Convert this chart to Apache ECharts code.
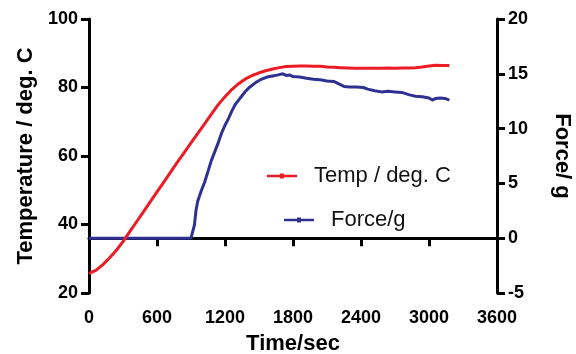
<!DOCTYPE html>
<html>
<head>
<meta charset="utf-8">
<script src="https://cdn.jsdelivr.net/npm/echarts@6/dist/echarts.min.js"></script>
<style>html,body{margin:0;padding:0;background:#fff}#c{width:576px;height:354px}</style>
</head>
<body>
<div id="c"></div>
<script>
// ---- data ----
var tempTime = [0,60,120,180,240,300,360,420,480,540,600,660,720,780,840,900,960,1020,1080,1140,1200,1260,1320,1380,1440,1500,1560,1620,1680,1740,1800,1860,1920,1980,2040,2100,2160,2220,2280,2340,2400,2460,2520,2580,2640,2700,2760,2820,2880,2940,3000,3060,3120,3180];
var tempVals = [25.7,26.6,28.2,30.2,32.4,35.0,37.9,40.8,43.7,46.6,49.5,52.4,55.3,58.2,61.0,63.8,66.6,69.4,72.2,75.0,77.3,79.4,81.1,82.5,83.5,84.3,84.9,85.4,85.8,86.1,86.2,86.3,86.3,86.2,86.2,86.0,85.9,85.8,85.7,85.6,85.6,85.6,85.6,85.6,85.7,85.6,85.7,85.7,85.8,86.0,86.3,86.5,86.4,86.4];
var forceTime = [0,60,120,180,240,300,360,420,480,540,600,660,720,780,840,900,906,930,945,960,990,1020,1050,1080,1110,1140,1170,1200,1230,1260,1290,1320,1350,1380,1420,1470,1520,1570,1620,1670,1710,1740,1770,1800,1860,1920,1980,2040,2100,2160,2200,2250,2300,2360,2420,2460,2520,2580,2640,2700,2760,2820,2880,2940,3000,3030,3060,3100,3140,3180];
var forceVals = [0,0,0,0,0,0,0,0,0,0,0,0,0,0,0,0,0.1,1.2,2.6,3.4,4.3,5.1,6.1,7.1,7.9,8.7,9.6,10.3,10.9,11.6,12.2,12.6,13.0,13.4,13.8,14.2,14.5,14.7,14.8,14.9,15.0,14.85,14.9,14.75,14.7,14.6,14.5,14.45,14.35,14.3,14.1,13.85,13.8,13.8,13.75,13.6,13.45,13.35,13.4,13.35,13.3,13.1,12.95,12.9,12.8,12.6,12.75,12.8,12.75,12.6];
var seriesNames = ['Temp / deg. C', 'Force/g'];
var xTitle = 'Time/sec';
var yLeftTitle = 'Temperature / deg. C';
var yRightTitle = 'Force/ g';

function pairs(xs, ys){ var o=[]; for(var i=0;i<xs.length;i++){o.push([xs[i],ys[i]]);} return o; }

var FONT = '"Liberation Sans", Arial, sans-serif';
var RED = '#ed1c24', BLUE = '#2e3192';
var axisLine = {show:true, lineStyle:{color:'#000', width:3}};
var axisTick = {show:true, inside:false, length:8, lineStyle:{color:'#000', width:3}};
var lblStyle = {color:'#000', fontSize:18, fontWeight:'bold', fontFamily:FONT, formatter:function(v){return String(v);}};
var nameStyle = {color:'#000', fontSize:22, fontWeight:'bold', fontFamily:FONT};
var icon = 'path://M0,1.3L30,1.3L30,3.7L0,3.7Z M13,0L17,0L17,5L13,5Z';
var legText = {color:'#111', fontSize:22, fontFamily:FONT, padding:[0,0,0,12]};

var chart = echarts.init(document.getElementById('c'));
chart.setOption({
  animation:false,
  backgroundColor:'#fff',
  grid:{left:89, right:79, top:19, bottom:61, containLabel:false, outerBoundsMode:'none'},
  legend:[
    {data:[seriesNames[0]], left:267, top:165, padding:0, itemWidth:30, itemHeight:5, icon:icon, textStyle:legText},
    {data:[seriesNames[1]], left:284, top:209, padding:0, itemWidth:30, itemHeight:5, icon:icon, textStyle:legText}
  ],
  xAxis:{type:'value', min:0, max:3600, interval:600, axisLine:axisLine, axisTick:axisTick,
    axisLabel:Object.assign({margin:16}, lblStyle), splitLine:{show:false},
    name:xTitle, nameLocation:'middle', nameGap:40, nameTextStyle:nameStyle},
  yAxis:[
    {type:'value', min:20, max:100, interval:20, position:'left', axisLine:axisLine, axisTick:axisTick,
      axisLabel:Object.assign({margin:11}, lblStyle), splitLine:{show:false},
      name:yLeftTitle, nameLocation:'middle', nameGap:49, nameTextStyle:nameStyle},
    {type:'value', min:-5, max:20, interval:5, position:'right', axisLine:axisLine, axisTick:axisTick,
      axisLabel:Object.assign({margin:11}, lblStyle), splitLine:{show:false},
      name:yRightTitle, nameLocation:'middle', nameGap:54, nameRotate:-90, nameTextStyle:nameStyle}
  ],
  series:[
    {name:seriesNames[1], type:'line', yAxisIndex:1, data:pairs(forceTime, forceVals), showSymbol:false, symbol:'none',
      lineStyle:{color:BLUE, width:3}, itemStyle:{color:BLUE}},
    {name:seriesNames[0], type:'line', yAxisIndex:0, data:pairs(tempTime, tempVals), showSymbol:false, symbol:'none',
      lineStyle:{color:RED, width:3}, itemStyle:{color:RED}}
  ]
});
</script>
</body>
</html>
